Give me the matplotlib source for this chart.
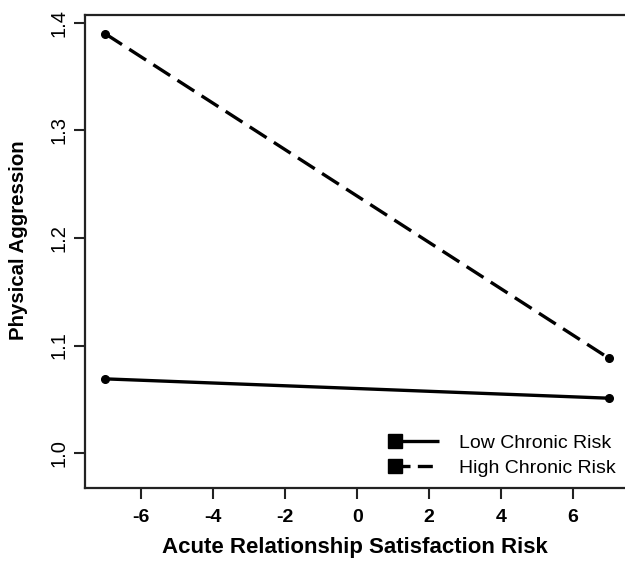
import matplotlib
matplotlib.use("Agg")
import matplotlib.pyplot as plt
from matplotlib.lines import Line2D
from matplotlib.legend_handler import HandlerLine2D

plt.rcParams['font.family'] = ['Liberation Sans', 'DejaVu Sans']

x_vals = [-7, 7]
low_risk = [1.069, 1.051]
high_risk = [1.390, 1.088]
series_labels = ["Low Chronic Risk", "High Chronic Risk"]
x_ticks = [-6, -4, -2, 0, 2, 4, 6]
y_ticks = [1.0, 1.1, 1.2, 1.3, 1.4]

fig = plt.figure(figsize=(6.25, 5.62), dpi=100)
W, H = 625, 562
left, right, top, bottom = 85, 625, 15, 488
ax = fig.add_axes([left / W, 1 - bottom / H, (right - left) / W, (bottom - top) / H])

lw = 2.4
dash = (6, 2.6)
ax.plot(x_vals, low_risk, color='black', lw=lw, marker='o', ms=5.5, solid_capstyle='butt')
ax.plot(x_vals, high_risk, color='black', lw=lw, marker='o', ms=5.5, dashes=dash)

ax.set_xlim(-7.56, 7.44)
ax.set_ylim(0.9675, 1.4074)
ax.set_xticks(x_ticks)
ax.set_xticklabels([str(t) for t in x_ticks], fontsize=14, fontweight='bold')
ax.set_yticks(y_ticks)
ax.set_yticklabels([f"{t:.1f}" for t in y_ticks], fontsize=14.5, rotation=90, va='center')
ax.tick_params(axis='both', length=8, width=1.5, color='#222222')
ax.tick_params(axis='x', pad=7)
ax.tick_params(axis='y', pad=4)
ax.spines['right'].set_visible(False)
for s in ['left', 'bottom', 'top']:
    ax.spines[s].set_linewidth(1.6)
    ax.spines[s].set_color('#222222')

fig.text(355 / W, 1 - 548 / H, "Acute Relationship Satisfaction Risk",
         ha='center', va='center', fontsize=16, fontweight='bold')
fig.text(19 / W, 1 - 240 / H, "Physical Aggression", rotation=90,
         ha='center', va='center', fontsize=14.7, fontweight='bold')


class LeftMarkerHandler(HandlerLine2D):
    def create_artists(self, legend, orig_handle, xdescent, ydescent,
                       width, height, fontsize, trans):
        y = (height - ydescent) / 2.0
        x0, x1 = -xdescent, -xdescent + width
        line = Line2D([x0, x1], [y, y])
        self.update_prop(line, orig_handle, legend)
        line.set_marker('None')
        mark = Line2D([x0], [y])
        self.update_prop(mark, orig_handle, legend)
        mark.set_linestyle('None')
        line.set_transform(trans)
        mark.set_transform(trans)
        return [line, mark]


handles = [
    Line2D([0, 1], [0, 0], color='black', lw=lw, marker='s', ms=10, solid_capstyle='butt'),
    Line2D([0, 1], [0, 0], color='black', lw=lw, marker='s', ms=10, dashes=(4.5, 2.2)),
]
leg = ax.legend(handles, series_labels, loc='lower right', bbox_to_anchor=(1.015, -0.013),
                frameon=False, numpoints=1, fontsize=14, handlelength=2.3,
                handletextpad=1.0, labelspacing=0.35, borderaxespad=0.5,
                handler_map={h: LeftMarkerHandler() for h in handles})

fig.savefig("out.png", dpi=100)
